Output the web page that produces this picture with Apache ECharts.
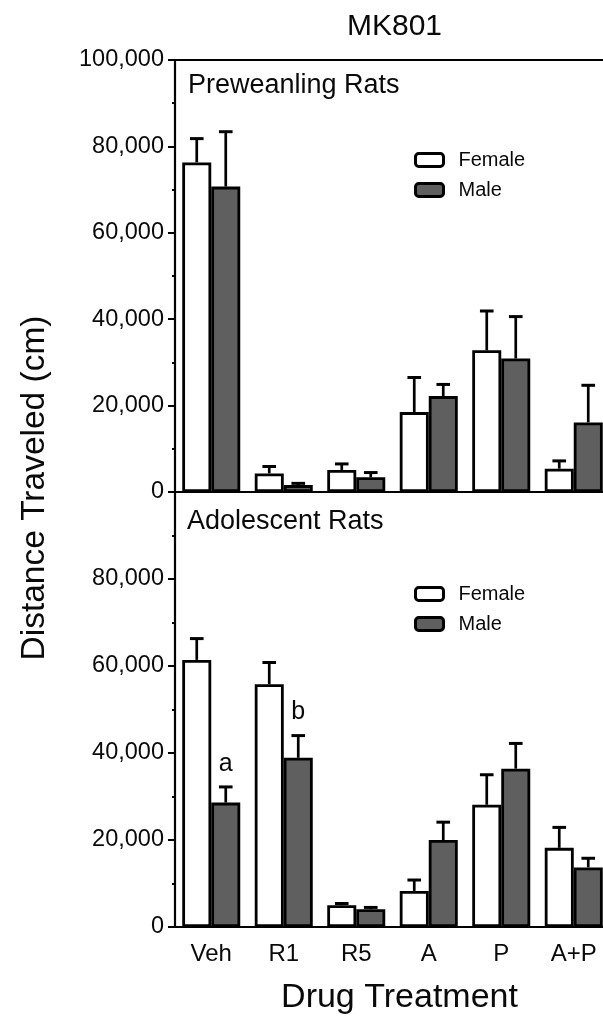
<!DOCTYPE html>
<html>
<head>
<meta charset="utf-8">
<script src="https://cdn.jsdelivr.net/npm/echarts@6/dist/echarts.min.js"></script>
<style>html,body{margin:0;padding:0;background:#fff}#c{width:603px;height:1021px}</style>
</head>
<body>
<div id="c"></div>
<script>
const categories = ['Veh', 'R1', 'R5', 'A', 'P', 'A+P'];
const preFemale    = [76300, 4300, 5100, 18500, 32800, 5400];
const preFemaleErr = [5500, 1600, 1400, 8000, 9100, 1800];
const preMale      = [70700, 1600, 3400, 22200, 30900, 16100];
const preMaleErr   = [12700, 400, 1100, 2700, 9700, 8600];
const adoFemale    = [61400, 55800, 5000, 8300, 28100, 18200];
const adoFemaleErr = [4900, 5000, 400, 2500, 6900, 4700];
const adoMale      = [28600, 38900, 4100, 20000, 36400, 13700];
const adoMaleErr   = [3600, 5100, 400, 4100, 5800, 2100];
const adoMaleMarks = ['a', 'b', '', '', '', ''];
const panelTitles  = ['Preweanling Rats', 'Adolescent Rats'];
const seriesNames  = ['Female', 'Male'];

const FONT = '"Liberation Sans", Arial, Helvetica, sans-serif';
const MALE_COLOR = '#5f5f5f';
const INK = '#0a0a0a';

function fmt(v) { return String(v).replace(/\B(?=(\d{3})+(?!\d))/g, ','); }

function errRenderer(side, marks) {
  return function (params, api) {
    const i = api.value(0), v = api.value(1), e = api.value(2);
    const base = api.coord([i, v]);
    const top = api.coord([i, v + e]);
    const band = api.size([1, 0])[0];
    const bw = band * 0.4;
    const x = base[0] + side * bw / 2;
    const cap = bw * 0.47;
    const children = [
      { type: 'line', shape: { x1: x, y1: base[1], x2: x, y2: top[1] },
        style: { stroke: '#000', lineWidth: 2.7 } },
      { type: 'line', shape: { x1: x - cap / 2, y1: top[1], x2: x + cap / 2, y2: top[1] },
        style: { stroke: '#000', lineWidth: 3 } }
    ];
    const m = marks ? marks[params.dataIndex] : '';
    if (m) {
      children.push({ type: 'text', style: { text: m, x: x, y: top[1] - 23,
        align: 'center', verticalAlign: 'middle', textAlign: 'center', textVerticalAlign: 'middle',
        fontSize: 25, fontFamily: FONT, fill: INK } });
    }
    return { type: 'group', children: children };
  };
}

function barSeries(name, data, gi, color) {
  return { name: name, type: 'bar', xAxisIndex: gi === 0 ? 0 : 2, yAxisIndex: gi, data: data,
    barGap: '0%', barCategoryGap: '20%',
    itemStyle: { color: color, borderColor: '#000', borderWidth: 2.8 } };
}
function errSeries(name, vals, errs, gi, side, marks) {
  return { name: name, type: 'custom', xAxisIndex: gi === 0 ? 0 : 2, yAxisIndex: gi, z: 5,
    renderItem: errRenderer(side, marks),
    data: vals.map((v, i) => [i, v, errs[i]]) };
}

function yAxis(gi) {
  return { type: 'value', gridIndex: gi, min: 0, max: 100000, interval: 20000,
    axisLine: { show: true, lineStyle: { color: '#000', width: 2.2 } },
    axisTick: { show: true, length: 7, lineStyle: { color: '#000', width: 2 } },
    minorTick: { show: true, splitNumber: 2, length: 3, lineStyle: { color: '#000', width: 2 } },
    splitLine: { show: false }, minorSplitLine: { show: false },
    axisLabel: { margin: 11, fontSize: 23.5, color: INK, fontFamily: FONT,
      formatter: v => (gi === 1 && v === 100000) ? '' : fmt(v) } };
}

const chart = echarts.init(document.getElementById('c'), null, { renderer: 'canvas' });
chart.setOption({
  animation: false,
  backgroundColor: '#fff',
  textStyle: { fontFamily: FONT },
  title: { text: 'MK801', left: 347, top: 12, padding: 0,
    textStyle: { fontSize: 30, fontWeight: 'normal', color: INK, fontFamily: FONT } },
  grid: [
    { left: 175, top: 60, width: 435, height: 432, outerBoundsMode: 'none' },
    { left: 175, top: 492, width: 435, height: 435, outerBoundsMode: 'none' }
  ],
  xAxis: [
    { type: 'category', gridIndex: 0, data: categories, position: 'bottom',
      axisLine: { lineStyle: { color: '#000', width: 2.2 } }, axisTick: { show: false }, axisLabel: { show: false } },
    { type: 'category', gridIndex: 0, data: categories, position: 'top',
      axisLine: { lineStyle: { color: '#000', width: 2.2 } }, axisTick: { show: false }, axisLabel: { show: false } },
    { type: 'category', gridIndex: 1, data: categories, position: 'bottom',
      axisLine: { lineStyle: { color: '#000', width: 2.2 } }, axisTick: { show: false },
      axisLabel: { margin: 15, fontSize: 24, color: INK, fontFamily: FONT },
      name: 'Drug Treatment', nameLocation: 'middle', nameGap: 54,
      nameTextStyle: { fontSize: 34, color: INK, fontFamily: FONT, padding: [0, 0, 0, 14] } }
  ],
  yAxis: [yAxis(0), yAxis(1)],
  legend: [
    { data: seriesNames, orient: 'vertical', left: 414, top: 150, padding: 0, itemGap: 10,
      itemWidth: 28, itemHeight: 13, icon: 'roundRect', selectedMode: false,
      itemStyle: { borderColor: '#000', borderWidth: 3 },
      textStyle: { fontSize: 20, color: INK, fontFamily: FONT, padding: [0, 0, 0, 10] } },
    { data: seriesNames, orient: 'vertical', left: 414, top: 584, padding: 0, itemGap: 10,
      itemWidth: 28, itemHeight: 13, icon: 'roundRect', selectedMode: false,
      itemStyle: { borderColor: '#000', borderWidth: 3 },
      textStyle: { fontSize: 20, color: INK, fontFamily: FONT, padding: [0, 0, 0, 10] } }
  ],
  graphic: [
    { type: 'text', x: 35, y: 488, rotation: Math.PI / 2,
      style: { text: 'Distance Traveled (cm)', align: 'center', verticalAlign: 'middle',
        textAlign: 'center', textVerticalAlign: 'middle', fontSize: 33.5, fontFamily: FONT, fill: INK } },
    { type: 'text', x: 188, y: 86,
      style: { text: panelTitles[0], align: 'left', verticalAlign: 'middle', textVerticalAlign: 'middle',
        fontSize: 27, fontFamily: FONT, fill: INK } },
    { type: 'text', x: 187, y: 522,
      style: { text: panelTitles[1], align: 'left', verticalAlign: 'middle', textVerticalAlign: 'middle',
        fontSize: 27, fontFamily: FONT, fill: INK } }
  ],
  series: [
    barSeries('Female', preFemale, 0, '#fff'),
    barSeries('Male', preMale, 0, MALE_COLOR),
    errSeries('Female SEM', preFemale, preFemaleErr, 0, -1),
    errSeries('Male SEM', preMale, preMaleErr, 0, 1),
    barSeries('Female', adoFemale, 1, '#fff'),
    barSeries('Male', adoMale, 1, MALE_COLOR),
    errSeries('Female SEM', adoFemale, adoFemaleErr, 1, -1),
    errSeries('Male SEM', adoMale, adoMaleErr, 1, 1, adoMaleMarks)
  ]
});
</script>
</body>
</html>
